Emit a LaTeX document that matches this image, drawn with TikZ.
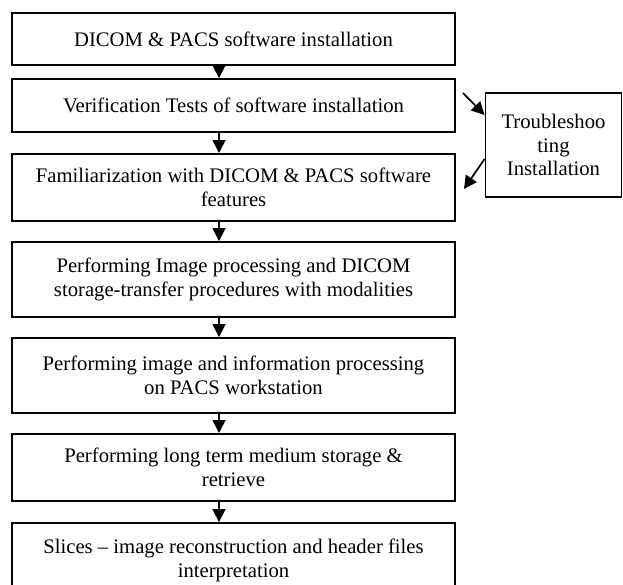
\documentclass[tikz,border=0pt]{standalone}
\usepackage{fontspec}
\setmainfont{Liberation Serif}
\usetikzlibrary{arrows.meta}

\begin{document}
\begin{tikzpicture}[
    x=0.58pt,
    y=0.58pt,
    >={Triangle[width=7.5pt,length=7.5pt]},
    font=\fontsize{12}{14}\selectfont,
    stage/.style={draw, line width=1.1pt, align=center, minimum width=257pt, inner sep=2pt},
    fixbox/.style={draw, line width=1.1pt, align=center, minimum width=78.9pt, minimum height=60.3pt, inner sep=2pt, font=\fontsize{12}{13.5}\selectfont},
    flow/.style={->, line width=1pt}
]
\useasboundingbox (0,0) rectangle (623,-585);

% --- Etapas ---
\node[stage, minimum height=30.2pt] (install)     at (233.5,-39)    {DICOM \& PACS software installation};
\node[stage, minimum height=30.7pt] (verify)      at (233.5,-105.5) {Verification Tests of software installation};
\node[stage, minimum height=38.9pt] (familiar)    at (233.5,-187.5) {Familiarization with DICOM \& PACS software\\features};
\node[stage, minimum height=43.5pt] (modality)    at (233.5,-279.5) {Performing Image processing and DICOM\\storage-transfer procedures with modalities};
\node[stage, minimum height=43.5pt] (workstation) at (233.5,-375.5) {Performing image and information processing\\on PACS workstation};
\node[stage, minimum height=38.9pt] (archive)     at (233.5,-467.5) {Performing long term medium storage \&\\retrieve};
\node[stage, minimum height=43.5pt] (slices)      at (233.5,-560.5) {Slices -- image reconstruction and header files\\interpretation};

\node[fixbox] (trouble) at (553.5,-145) {Troubleshoo\\ting\\Installation};

% --- Flechas ---
\foreach \a/\b in {install/verify, verify/familiar, familiar/modality, modality/workstation, workstation/archive, archive/slices} {
    \draw[flow] (\a.south -| 219,0) -- (\b.north -| 219,0);
}

\coordinate (outfix) at (463,-93);
\coordinate (infix)  at (464,-189);
\draw[flow] (outfix) -- (trouble.west |- 0,-115);
\draw[flow] (trouble.west |- 0,-159) -- (infix);

\end{tikzpicture}
\end{document}
